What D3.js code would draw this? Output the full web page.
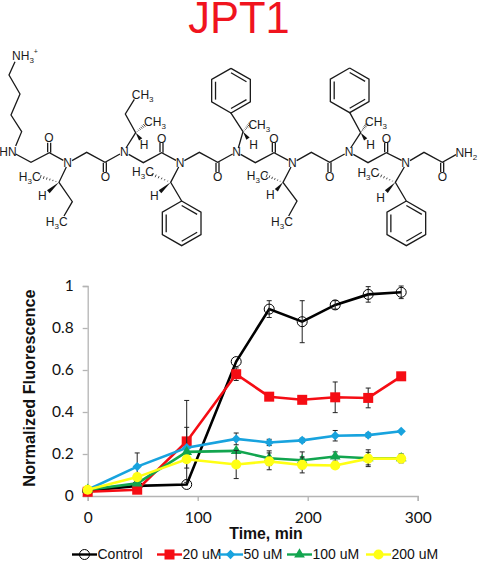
<!DOCTYPE html>
<html>
<head>
<meta charset="utf-8">
<script src="https://cdn.jsdelivr.net/npm/d3@7"></script>
<style>
  html, body { margin: 0; padding: 0; background: #fff; }
  svg { display: block; }
  text { font-family: "Liberation Sans", Arial, sans-serif; }
</style>
</head>
<body>
<div id="chart"></div>
<script>
// chart values
const times = [0, 45, 90, 135, 165, 195, 225, 255, 285];
const seriesNames = ['Control', '20 uM', '50 uM', '100 uM', '200 uM'];
const seriesColors = ['#000000', '#f50d14', '#18a3de', '#12a54f', '#ffff14'];
const seriesSymbols = ['ring', 'square', 'diamond', 'triangle', 'disc'];

const controlValues = [0.025, 0.048, 0.055, 0.64, 0.89, 0.83, 0.91, 0.96, 0.97];
const uM20Values = [0.02, 0.03, 0.26, 0.58, 0.473, 0.458, 0.47, 0.467, 0.57];
const uM50Values = [0.03, 0.14, 0.23, 0.272, 0.255, 0.265, 0.287, 0.29, 0.308];
const uM100Values = [0.03, 0.06, 0.21, 0.215, 0.18, 0.17, 0.188, 0.18, 0.18];
const uM200Values = [0.03, 0.09, 0.175, 0.15, 0.165, 0.148, 0.145, 0.178, 0.178];

const controlErrors = [0, 0, 0, 0, 0.04, 0.1, 0.02, 0.037, 0.03];
const uM20Errors = [0, 0, 0.195, 0.03, 0, 0, 0.073, 0.047, 0];
const uM50Errors = [0, 0.065, 0.097, 0.028, 0.015, 0.01, 0.025, 0.01, 0];
const uM100Errors = [0, 0, 0, 0, 0.035, 0.04, 0.022, 0.04, 0.02];
const uM200Errors = [0, 0, 0, 0.067, 0.04, 0.038, 0, 0.03, 0.02];

const xTicks = [0, 100, 200, 300];
const yTicks = [0, 0.2, 0.4, 0.6, 0.8, 1];

const allValues = [controlValues, uM20Values, uM50Values, uM100Values, uM200Values];
const allErrors = [controlErrors, uM20Errors, uM50Errors, uM100Errors, uM200Errors];

// molecule drawing, in pixels of a 3x view of the structure
const chainBonds = [
  [[45, 185], [27, 225], [60, 282], [33, 345], [65, 395], [47, 438]],
  [[47, 462], [93, 487], [148, 458], [190, 481]],
  [[216, 482], [260, 457], [315, 487], [360, 462]],
  [[386, 463], [430, 488], [485, 458], [528, 481]],
  [[553, 482], [598, 457], [653, 487], [698, 462]],
  [[722, 463], [766, 488], [822, 458], [865, 481]],
  [[890, 482], [934, 457], [989, 487], [1034, 462]],
  [[1060, 463], [1104, 488], [1159, 458], [1205, 481]],
  [[1230, 482], [1272, 457], [1327, 487], [1368, 464]],
  // side chains
  [[199, 501], [177, 547], [217, 605], [192, 648]],
  [[378, 444], [407, 398], [376, 342], [403, 298]],
  [[536, 501], [512, 547], [545, 603]],
  [[715, 444], [729, 395], [692, 338]],
  [[873, 501], [849, 547], [891, 603], [866, 648]],
  [[1052, 444], [1082, 398], [1049, 337]],
  [[1213, 501], [1186, 547], [1219, 603]]
];
const carbonyls = [
  [[148, 458], [148, 428]], [[315, 487], [315, 516]], [[485, 458], [485, 428]],
  [[653, 487], [653, 516]], [[822, 458], [822, 428]], [[989, 487], [989, 516]],
  [[1159, 458], [1159, 428]], [[1327, 487], [1327, 516]]
];
const rings = [
  [545, 670], [693, 272], [1049, 271], [1219, 670]
];
const wedges = [
  [[177, 547], [145, 575]], [[407, 398], [422, 418]], [[512, 547], [480, 575]],
  [[729, 395], [744, 416]], [[849, 547], [829, 571]], [[1082, 398], [1097, 418]],
  [[1186, 547], [1159, 575]]
];
const hashes = [
  [[177, 547], [122, 530]], [[407, 398], [433, 376]], [[512, 547], [458, 524]],
  [[729, 395], [749, 373]], [[849, 547], [800, 527]], [[1082, 398], [1099, 374]],
  [[1186, 547], [1135, 524]]
];
const atomLabels = [
  ['NH', 75, 166, '3', '+'], ['HN', 24, 454], ['N', 203, 488], ['N', 373, 456], ['N', 540, 488], ['N', 710, 456],
  ['N', 877, 488], ['N', 1047, 456], ['N', 1217, 488], ['NH', 1399, 457, '2'],
  ['O', 147, 412], ['O', 316, 530], ['O', 485, 416], ['O', 653, 530], ['O', 822, 415], ['O', 989, 530],
  ['O', 1159, 415], ['O', 1327, 530],
  ['H', 127, 588], ['H', 432, 435], ['H', 463, 588], ['H', 761, 435], ['H', 811, 585], ['H', 1112, 435], ['H', 1142, 592],
  ['CH', 465, 365, '3'], ['CH', 428, 285, '3'], ['CH', 778, 375, '3'], ['CH', 1128, 365, '3'],
  ['H', 89, 531, '3', 'C'], ['H', 170, 665, '3', 'C'], ['H', 429, 514, '3', 'C'], ['H', 773, 528, '3', 'C'],
  ['H', 846, 665, '3', 'C'], ['H', 1105, 518, '3', 'C']
];

const width = 478;
const height = 562;

const svg = d3.select('#chart').append('svg').attr('width', width).attr('height', height);

svg.append('text')
  .attr('x', 239)
  .attr('y', 33)
  .attr('text-anchor', 'middle')
  .attr('font-size', 43.5)
  .attr('fill', '#f0141e')
  .text('JPT1');

// Molecule
const molScale = d3.scaleLinear().domain([0, 1434]).range([0, 478]);
const molLine = d3.line().x(d => molScale(d[0])).y(d => molScale(d[1]));
const gMol = svg.append('g');

function addBond(points, strokeWidth) {
  gMol.append('path')
    .attr('d', molLine(points))
    .attr('fill', 'none')
    .attr('stroke', '#1a1a1a')
    .attr('stroke-width', strokeWidth || 1.3);
}

chainBonds.forEach(b => addBond(b));

// C=O double bonds, second stroke beside the first
carbonyls.forEach(b => {
  addBond([[b[0][0] - 5, b[0][1] + (b[1][1] > b[0][1] ? 1 : -1)], [b[1][0] - 5, b[1][1]]]);
  addBond([[b[0][0] + 4, b[0][1]], [b[1][0] + 4, b[1][1]]]);
});

// Benzene rings
rings.forEach(c => {
  const r = 67;
  const corners = d3.range(6).map(i => {
    const a = -Math.PI / 2 + i * Math.PI / 3;
    return [c[0] + r * Math.cos(a), c[1] + r * Math.sin(a)];
  });
  addBond(corners.concat([corners[0]]));
  [[0, 1], [2, 3], [4, 5]].forEach(pair => {
    const inner = pair.map(i => [
      c[0] + (corners[i][0] - c[0]) * 0.8,
      c[1] + (corners[i][1] - c[1]) * 0.8
    ]);
    addBond(inner);
  });
});

wedges.forEach(w => {
  const dx = w[1][0] - w[0][0];
  const dy = w[1][1] - w[0][1];
  const len = Math.hypot(dx, dy);
  const nx = -dy / len * 6;
  const ny = dx / len * 6;
  gMol.append('path')
    .attr('d', molLine([w[0], [w[1][0] + nx, w[1][1] + ny], [w[1][0] - nx, w[1][1] - ny]]) + 'Z')
    .attr('fill', '#111');
});

hashes.forEach(h => {
  const dx = h[1][0] - h[0][0];
  const dy = h[1][1] - h[0][1];
  const len = Math.hypot(dx, dy);
  d3.range(1, 7).forEach(i => {
    const t = i / 6;
    const px = h[0][0] + dx * t;
    const py = h[0][1] + dy * t;
    const half = 0.5 + t * 4.5;
    addBond([
      [px - dy / len * half, py + dx / len * half],
      [px + dy / len * half, py - dx / len * half]
    ], 0.8);
  });
});

atomLabels.forEach(a => {
  const t = svg.append('text')
    .attr('x', molScale(a[1]))
    .attr('y', molScale(a[2]))
    .attr('dy', '0.36em')
    .attr('text-anchor', 'middle')
    .attr('font-size', 12)
    .attr('fill', '#1a1a1a')
    .text(a[0]);
  if (a[3]) {
    t.append('tspan').attr('font-size', 8).attr('dy', 3).text(a[3]);
  }
  if (a[4] === '+') {
    t.append('tspan').attr('font-size', 7).attr('dy', -9).text('+');
  } else if (a[4]) {
    t.append('tspan').attr('font-size', 12).attr('dy', -3).text(a[4]);
  }
});

// Chart
const x = d3.scaleLinear().domain([0, 300]).range([87.7, 417.7]);
const y = d3.scaleLinear().domain([0, 1]).range([496, 286]);

const xAxis = svg.append('g')
  .attr('transform', `translate(0,${y(0)})`)
  .call(d3.axisBottom(x).tickValues(xTicks).tickSizeOuter(0).tickSize(5).tickPadding(11).tickFormat(d3.format('d')));
const yAxis = svg.append('g')
  .attr('transform', `translate(${x(0)},0)`)
  .call(d3.axisLeft(y).tickValues(yTicks).tickSizeOuter(0).tickSize(5).tickPadding(9).tickFormat(d => String(d)));

[xAxis, yAxis].forEach(axis => {
  axis.selectAll('path, line').attr('stroke', '#b4b4b4').attr('stroke-width', 1.3);
  axis.selectAll('text')
    .attr('fill', '#111')
    .style('font-family', 'Lato, sans-serif')
    .attr('font-size', 15.5);
});

svg.append('text')
  .attr('x', 266)
  .attr('y', 539)
  .attr('text-anchor', 'middle')
  .attr('font-size', 15.8)
  .attr('font-weight', 'bold')
  .attr('fill', '#111')
  .text('Time, min');

svg.append('text')
  .attr('transform', `translate(35,388)rotate(-90)`)
  .attr('text-anchor', 'middle')
  .attr('font-size', 16.3)
  .attr('font-weight', 'bold')
  .attr('fill', '#111')
  .text('Normalized Fluorescence');

const line = d3.line().x((d, i) => x(times[i])).y(d => y(d));

function drawMarker(group, kind, color, cx, cy) {
  if (kind === 'ring') {
    group.append('circle').attr('cx', cx).attr('cy', cy).attr('r', 5)
      .attr('fill', 'none').attr('stroke', color).attr('stroke-width', 1);
    return;
  }
  const types = {
    square: [d3.symbolSquare, 100],
    diamond: [d3.symbolDiamond2, 55],
    triangle: [d3.symbolTriangle, 50],
    disc: [d3.symbolCircle, 80]
  };
  const sym = d3.symbol().type(types[kind][0]).size(types[kind][1]);
  group.append('path')
    .attr('d', sym())
    .attr('transform', `translate(${cx},${cy})`)
    .attr('fill', color);
}

allValues.forEach((values, s) => {
  const g = svg.append('g');
  g.append('path')
    .attr('d', line(values))
    .attr('fill', 'none')
    .attr('stroke', seriesColors[s])
    .attr('stroke-width', 2.6);

  values.forEach((v, i) => {
    const err = allErrors[s][i];
    if (err > 0) {
      const cx = x(times[i]);
      g.append('path')
        .attr('d', `M${cx},${y(v + err)}V${y(v - err)}M${cx - 2.5},${y(v + err)}h5M${cx - 2.5},${y(v - err)}h5`)
        .attr('fill', 'none')
        .attr('stroke', '#222')
        .attr('stroke-width', 1);
    }
    drawMarker(g, seriesSymbols[s], seriesColors[s], x(times[i]), y(v));
  });
});

// Legend
const legendLineX = d3.scaleOrdinal().domain(seriesNames).range([72, 157, 218, 287, 366]);
const legendY = 554.5;

seriesNames.forEach((name, s) => {
  const g = svg.append('g');
  const left = legendLineX(name);
  g.append('line')
    .attr('x1', left).attr('x2', left + 25)
    .attr('y1', legendY).attr('y2', legendY)
    .attr('stroke', seriesColors[s])
    .attr('stroke-width', 2.4);
  drawMarker(g, seriesSymbols[s], seriesColors[s], left + 12.5, legendY);
  g.append('text')
    .attr('x', left + 25.5)
    .attr('y', legendY + 4.5)
    .attr('font-size', 14)
    .attr('fill', '#111')
    .text(name);
});
</script>
</body>
</html>
